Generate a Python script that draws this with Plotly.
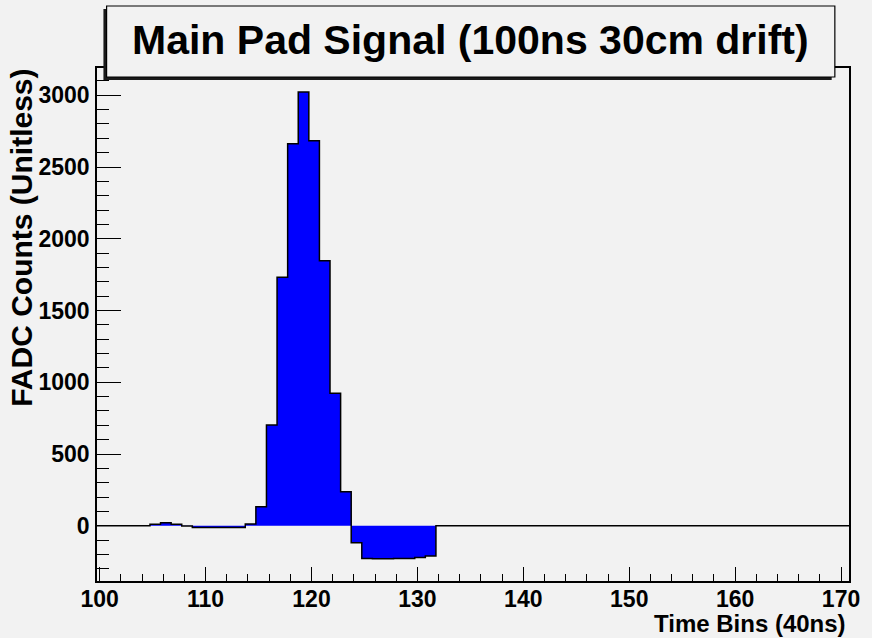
import plotly.graph_objects as go

# ---- data ----
bin_start = 99.75          # lower edge of first time bin
bin_width = 1.0
counts = [
    0, 0, 0, 0, 0,                 # 99.75 - 104.75
    10, 21, 10, -2,                # 104.75 - 108.75
    -12, -12, -12, -12, -12,       # 108.75 - 113.75
    12, 132, 702, 1732, 2662,      # 113.75 - 118.75
    3022, 2683, 1846, 923, 237,    # 118.75 - 123.75
    -118, -229, -230, -230, -229, -228,  # 123.75 - 129.75
    -221, -211,                    # 129.75 - 131.75
]
counts += [0] * (71 - len(counts))  # empty bins up to 170.75

x_ticks = [100, 110, 120, 130, 140, 150, 160, 170]
y_ticks = [0, 500, 1000, 1500, 2000, 2500, 3000]

title_text = "Main Pad Signal (100ns 30cm drift)"
x_title = "Time Bins (40ns)"
y_title = "FADC Counts (Unitless)"

# ---- build step outline ----
edges = [bin_start + i * bin_width for i in range(len(counts) + 1)]
step_y = counts + [counts[-1]]

BG = "#f2f2f2"
FONT = "Liberation Sans, Arial, sans-serif"

fig = go.Figure()
fig.add_trace(go.Scatter(
    x=edges, y=step_y, mode="lines", line_shape="hv",
    line=dict(color="black", width=1.5),
    fill="tozeroy", fillcolor="#0000ff",
    hoverinfo="skip", showlegend=False,
))

W, H = 872, 638
L, R, T, B = 97, 15, 68, 57
pw, ph = W - L - R, H - T - B

def px(xp):
    return (xp - L) / pw

def py(yp):
    return (H - B - yp) / ph

fig.update_layout(
    width=W, height=H,
    margin=dict(l=L, r=R, t=T, b=B),
    paper_bgcolor=BG, plot_bgcolor=BG,
    font=dict(family=FONT, color="black"),
    xaxis=dict(
        range=[edges[0], edges[-1]],
        tickvals=x_ticks, ticktext=[str(v) for v in x_ticks],
        ticks="inside", ticklen=14, tickwidth=1, tickcolor="black",
        minor=dict(dtick=2, tick0=0, ticks="inside", ticklen=7, tickwidth=1, tickcolor="black", showgrid=False),
        showline=True, linecolor="black", linewidth=1.5, mirror=True,
        showgrid=False, zeroline=False,
        tickfont=dict(family=FONT, size=23, weight="bold", color="black"),
        ticklabelstandoff=-3,
    ),
    yaxis=dict(
        range=[-385, 3190],
        tickvals=y_ticks, ticktext=[str(v) for v in y_ticks],
        ticks="inside", ticklen=24, tickwidth=1, tickcolor="black",
        minor=dict(dtick=100, tick0=0, ticks="inside", ticklen=12, tickwidth=1, tickcolor="black", showgrid=False),
        showline=True, linecolor="black", linewidth=1.5, mirror=True,
        showgrid=False, zeroline=False,
        tickfont=dict(family=FONT, size=23, weight="bold", color="black"),
        ticklabelstandoff=1,
    ),
)

# title box with shadow (left & bottom)
fig.add_shape(type="rect", xref="paper", yref="paper",
              x0=px(103.5), x1=px(839.5), y0=py(80), y1=py(9),
              fillcolor="#1a1a1a", line=dict(width=0), layer="above")
fig.add_shape(type="rect", xref="paper", yref="paper",
              x0=px(106.7), x1=px(842.7), y0=py(77), y1=py(6),
              fillcolor=BG, line=dict(color="black", width=1.2), layer="above")

fig.add_annotation(text=title_text, xref="paper", yref="paper",
                   x=px(474.7), y=py(40), xanchor="center", yanchor="middle",
                   showarrow=False,
                   font=dict(family=FONT, size=41, weight="bold", color="black"))

fig.add_annotation(text=x_title, xref="paper", yref="paper",
                   x=px(856), y=py(623), xanchor="right", yanchor="middle",
                   showarrow=False,
                   font=dict(family=FONT, size=24, weight="bold", color="black"))

fig.add_annotation(text=y_title, xref="paper", yref="paper",
                   x=px(21), y=py(67), xanchor="center", yanchor="top",
                   textangle=-90, showarrow=False,
                   font=dict(family=FONT, size=30, weight="bold", color="black"))

fig.write_html("out.html")
